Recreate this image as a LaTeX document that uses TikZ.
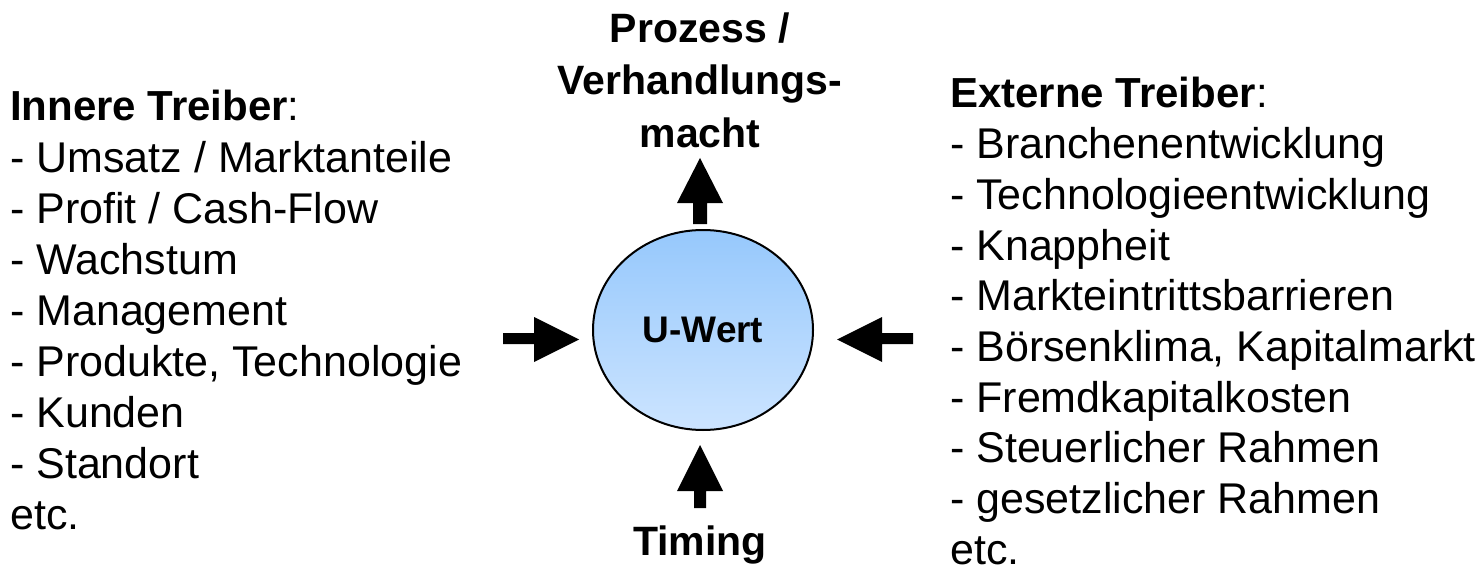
\documentclass[tikz,border=0pt]{standalone}
\usepackage{fontspec}
\setmainfont{Liberation Sans}
\usetikzlibrary{shapes.geometric}
\definecolor{topblue}{RGB}{150,200,252}
\definecolor{botblue}{RGB}{204,228,255}
\tikzset{
  body/.style={anchor=base west, inner sep=0pt, font=\fontsize{43}{50}\selectfont},
  head/.style={anchor=base, inner sep=0pt, font=\fontsize{41}{52}\selectfont\bfseries},
  blockarrow/.style={fill=black, draw=none},
  core/.style={ellipse, draw=black, line width=2pt, minimum width=220pt, minimum height=200pt,
    top color=topblue, bottom color=botblue, font=\fontsize{37}{40}\selectfont\bfseries}
}
\begin{document}
\begin{tikzpicture}[x=1pt,y=-1pt]
\useasboundingbox (0,0) rectangle (1483,567);
\node[core] (u) at (703,330) {U-Wert};

\foreach \t [count=\i from 0] in {{\fontsize{42}{50}\selectfont\textbf{Innere Treiber}:},
  {- Umsatz / Marktanteile}, {- Profit / Cash-Flow}, {- Wachstum},
  {- Management}, {- Produkte, Technologie}, {- Kunden}, {- Standort}, {etc.}}
  \node[body] (in\i) at (10,{121+51.1*\i}) {\t};

\foreach \t [count=\i from 0] in {{\fontsize{42}{50}\selectfont\textbf{Externe Treiber}:},
  {- Branchenentwicklung}, {- Technologieentwicklung}, {- Knappheit},
  {- Markteintrittsbarrieren}, {- Börsenklima, Kapitalmarkt}, {- Fremdkapitalkosten},
  {- Steuerlicher Rahmen}, {- gesetzlicher Rahmen}, {etc.}}
  \node[body] (ex\i) at (950,{108+50.7*\i}) {\t};

\node[head] (proc1) at (700,43) {Prozess /};
\node[head] (proc2) at (700,95) {Verhandlungs-};
\node[head] (proc3) at (700,147) {macht};
\node[head] (timing) at (700,555) {Timing};

% left arrow
\fill[blockarrow] (503,333) -- (534,333) -- (534,317) -- (579,339.5) -- (534,362) -- (534,344) -- (503,344) -- cycle;
% right arrow
\fill[blockarrow] (913,333) -- (882,333) -- (882,317) -- (837,339.5) -- (882,362) -- (882,344) -- (913,344) -- cycle;
% top arrow
\fill[blockarrow] (693,224) -- (693,203) -- (677,203) -- (700,158) -- (723,203) -- (707,203) -- (707,224) -- cycle;
% bottom arrow
\fill[blockarrow] (694,508) -- (694,491) -- (677,491) -- (700,445) -- (723,491) -- (706,491) -- (706,508) -- cycle;
\end{tikzpicture}
\end{document}
